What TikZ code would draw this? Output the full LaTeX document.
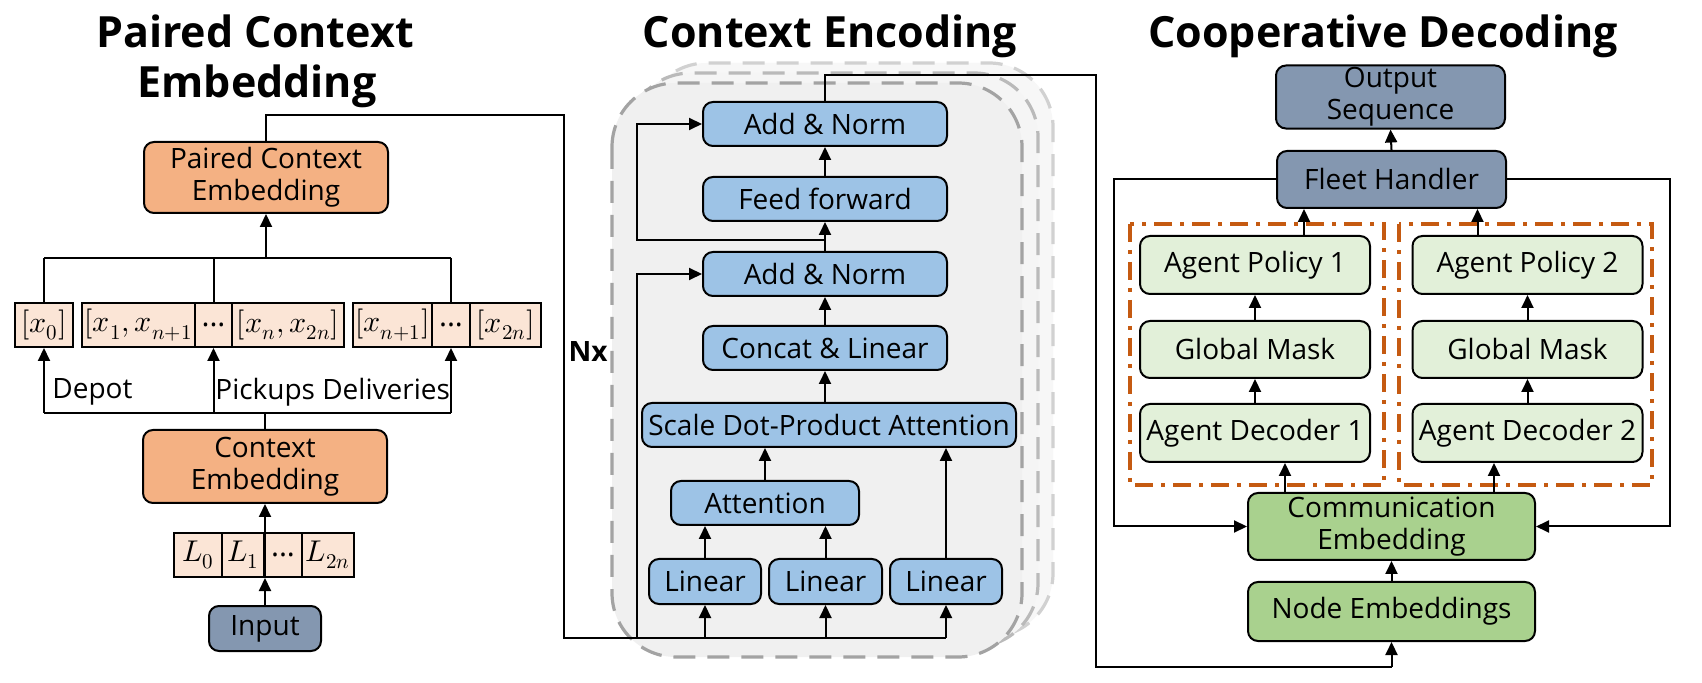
\documentclass[tikz,border=0pt]{standalone}
\usepackage{fontspec}
\usepackage{unicode-math}
\setmainfont{Open Sans}
\setmathfont{Latin Modern Math}
\usetikzlibrary{arrows.meta,calc}
\definecolor{cblue}{HTML}{9DC3E6}
\definecolor{corange}{HTML}{F4B183}
\definecolor{corl}{HTML}{FBE5D6}
\definecolor{cslate}{HTML}{8497B0}
\definecolor{cgreen}{HTML}{A9D18E}
\definecolor{cgl}{HTML}{E2F0D9}
\definecolor{cdd}{HTML}{C55A11}
\newcommand\myboxfont{\fontsize{14}{16}\selectfont}
\newcommand\mytitlefont{\fontsize{21.5}{25}\selectfont\bfseries}
\newcommand\mymathfont{\fontsize{15}{17}\selectfont}
\tikzset{
  box/.style={draw=black, line width=1pt, rounded corners=5pt, inner sep=1pt, font=\myboxfont, align=center},
  bluebox/.style={box, fill=cblue},
  orbox/.style={box, fill=corange},
  slbox/.style={box, fill=cslate},
  grbox/.style={box, fill=cgreen},
  glbox/.style={box, fill=cgl},
  cell/.style={draw=black, line width=1pt, fill=corl, inner sep=0pt, font=\mymathfont, minimum height=22pt},
  arr/.style={-{Triangle[length=6.5pt,width=6pt]}, line width=1pt},
  ln/.style={line width=1pt},
  ttl/.style={font=\mytitlefont, anchor=base, inner sep=0pt},
  lbl/.style={font=\myboxfont, inner sep=0pt},
  ddbox/.style={draw=cdd, line width=1.6pt, dash pattern=on 9pt off 4pt on 2pt off 4pt},
  encbox/.style={line width=1.6pt, rounded corners=32pt, dash pattern=on 11pt off 6pt}
}
\begin{document}
\begin{tikzpicture}[x=0.5pt,y=-0.5pt]
\useasboundingbox[fill=white] (0,0) rectangle (1702,683);

% ---------- titles ----------
\node[ttl] (t1a) at (255,48) {Paired Context};
\node[ttl] (t1b) at (257,98) {Embedding};
\node[ttl] (t2) at (830,48) {Context Encoding};
\node[ttl] (t3) at (1383,48) {Cooperative Decoding};

% ---------- encoder containers ----------
\draw[encbox, draw=black!18, fill=black!3] (643,63) rectangle (1053,637);
\draw[encbox, draw=black!27, fill=black!4] (627,73) rectangle (1038,647);
\draw[encbox, draw=black!36, fill=black!6] (612,83) rectangle (1022,657);

% ---------- left column ----------
\node[orbox, minimum width=122pt, minimum height=35.5pt] (pce) at (266,177.5) {Paired Context\\Embedding};
\node[orbox, minimum width=122pt, minimum height=36.5pt] (ce) at (265,466.5) {Context\\Embedding};
\node[slbox, minimum width=56pt, minimum height=22.5pt] (input) at (265,628.5) {Input};

\node[cell, minimum width=24pt] (L0) at (198,555) {$L_0$};
\node[cell, minimum width=21pt] (L1) at (243,555) {$L_1$};
\node[cell, minimum width=19pt] (Ld) at (283,555) {...};
\node[cell, minimum width=26pt] (L2) at (328,555) {$L_{2n}$};

\node[cell, minimum width=29pt] (x0) at (44,325) {$[x_0]$};
\node[cell, minimum width=56.5pt] (g2a) at (138.5,325) {$[x_1,x_{n+1}$};
\node[cell, minimum width=18.5pt] (g2b) at (213.5,325) {...};
\node[cell, minimum width=56pt] (g2c) at (288,325) {$[x_n,x_{2n}]$};
\node[cell, minimum width=39.5pt] (g3a) at (392.5,325) {$[x_{n+1}]$};
\node[cell, minimum width=19pt] (g3b) at (451,325) {...};
\node[cell, minimum width=35.5pt] (g3c) at (505.5,325) {$[x_{2n}]$};

\node[lbl, anchor=west] (depot) at (52,392) {Depot};
\node[lbl, anchor=west] (pd) at (215,392) {Pickups Deliveries};

\coordinate (busT) at (266,258);
\coordinate (busB) at (265,413);

\draw[arr] (input.north) -- (input.north |- L1.south);
\draw[arr] (input.north |- L1.south) -- (ce.south);
\draw[ln] (ce.north) -- (busB);
\draw[ln] (x0.south |- busB) -- (g3b.south |- busB);
\draw[arr] (x0.south |- busB) -- (x0.south);
\draw[arr] (g2b.south |- busB) -- (g2b.south);
\draw[arr] (g3b.south |- busB) -- (g3b.south);
\draw[ln] (x0.north |- busT) -- (g3b.north |- busT);
\draw[ln] (x0.north |- busT) -- (x0.north);
\draw[ln] (g2b.north |- busT) -- (g2b.north);
\draw[ln] (g3b.north |- busT) -- (g3b.north);
\draw[arr] (busT) -- (pce.south);

% ---------- encoder ----------
\node[bluebox, minimum width=122pt, minimum height=22pt] (an1) at (825,124) {Add \& Norm};
\node[bluebox, minimum width=122pt, minimum height=22pt] (ff) at (825,199) {Feed forward};
\node[bluebox, minimum width=122pt, minimum height=22pt] (an2) at (825,274) {Add \& Norm};
\node[bluebox, minimum width=122pt, minimum height=22pt] (cl) at (825,348) {Concat \& Linear};
\node[bluebox, minimum width=187pt, minimum height=22pt] (sdpa) at (829,425) {Scale Dot-Product Attention};
\node[bluebox, minimum width=94pt, minimum height=22pt] (att) at (765,503) {Attention};
\node[bluebox, minimum width=56pt, minimum height=22.5pt] (lin1) at (705,581.5) {Linear};
\node[bluebox, minimum width=56.5pt, minimum height=22.5pt] (lin2) at (825.5,581.5) {Linear};
\node[bluebox, minimum width=56pt, minimum height=22.5pt] (lin3) at (946,581.5) {Linear};

\node[font=\myboxfont\bfseries, inner sep=0pt] (nx) at (588,352) {Nx};

\coordinate (encCorner) at (564,115);
\coordinate (encIn) at (564,638);
\coordinate (res) at (637,638);
\coordinate (jn) at (825,240);

\draw[ln] (pce.north) |- (encCorner) -- (encIn) -- (lin3.south |- encIn);
\draw[arr] (lin1.south |- encIn) -- (lin1.south);
\draw[arr] (lin2.south |- encIn) -- (lin2.south);
\draw[arr] (lin3.south |- encIn) -- (lin3.south);
\draw[arr] (res) |- (an2.west);
\draw[arr] (jn) -- (jn -| res) |- (an1.west);
\draw[arr] (lin1.north) -- (lin1.north |- att.south);
\draw[arr] (lin2.north) -- (lin2.north |- att.south);
\draw[arr] (att.north) -- (att.north |- sdpa.south);
\draw[arr] (lin3.north) -- (lin3.north |- sdpa.south);
\draw[arr] (cl.south |- sdpa.north) -- (cl.south);
\draw[arr] (cl.north) -- (an2.south);
\draw[arr] (an2.north) -- (ff.south);
\draw[arr] (ff.north) -- (an1.south);

% ---------- decoder ----------
\draw[ddbox] (1130,224) rectangle (1384,485);
\draw[ddbox] (1399,224) rectangle (1652,485);

\node[slbox, minimum width=114.5pt, minimum height=29pt] (out) at (1390.5,97) {Output\\Sequence};
\node[slbox, minimum width=114.5pt, minimum height=28.5pt] (fleet) at (1391.5,179.5) {Fleet Handler};
\node[glbox, minimum width=115pt, minimum height=29pt] (ap1) at (1255,265) {Agent Policy 1};
\node[glbox, minimum width=115pt, minimum height=28.5pt] (gm1) at (1255,349.5) {Global Mask};
\node[glbox, minimum width=115pt, minimum height=29pt] (ad1) at (1255,433) {Agent Decoder 1};
\node[glbox, minimum width=115pt, minimum height=29pt] (ap2) at (1527.5,265) {Agent Policy 2};
\node[glbox, minimum width=115pt, minimum height=28.5pt] (gm2) at (1527.5,349.5) {Global Mask};
\node[glbox, minimum width=115pt, minimum height=29pt] (ad2) at (1527.5,433) {Agent Decoder 2};
\node[grbox, minimum width=143.5pt, minimum height=33.5pt] (comm) at (1391.5,526.5) {Communication\\Embedding};
\node[grbox, minimum width=143.5pt, minimum height=29.5pt] (nemb) at (1391.5,611.5) {Node Embeddings};

\coordinate (decTop) at (1096,75);
\coordinate (decBot) at (1096,667);
\coordinate (fbL) at (1114,400);
\coordinate (fbR) at (1670,400);

\draw[ln] (an1.north) |- (decTop) -- (decBot) -- (nemb.south |- decBot);
\draw[arr] (nemb.south |- decBot) -- (nemb.south);
\draw[arr] (nemb.north) -- (comm.south);
\draw[arr] ([xshift=15pt]ad1.south |- comm.north) -- ([xshift=15pt]ad1.south);
\draw[arr] ([xshift=-16.75pt]ad2.south |- comm.north) -- ([xshift=-16.75pt]ad2.south);
\draw[arr] (ad1.north) -- (gm1.south);
\draw[arr] (gm1.north) -- (ap1.south);
\draw[arr] (ad2.north) -- (gm2.south);
\draw[arr] (gm2.north) -- (ap2.south);
\draw[arr] ([xshift=24.5pt]ap1.north) -- ([xshift=24.5pt]ap1.north |- fleet.south);
\draw[arr] ([xshift=-25pt]ap2.north) -- ([xshift=-25pt]ap2.north |- fleet.south);
\draw[arr] (fleet.north) -- (out.south);
\draw[arr] (fleet.west) -| (fbL) |- (comm.west);
\draw[arr] (fleet.east) -| (fbR) |- (comm.east);
\end{tikzpicture}
\end{document}
